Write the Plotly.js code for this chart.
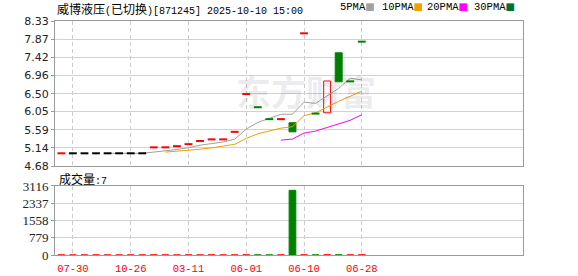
<!DOCTYPE html>
<html><head><meta charset="utf-8">
<script src="https://cdn.plot.ly/plotly-3.0.1.min.js"></script>
<style>html,body{margin:0;padding:0;background:#fff}#chart{width:578px;height:276px}</style>
</head><body><div id="chart"></div>
<script>
// ---- data ----
const dates = ['07-26','07-30','08-15','08-28','09-12','10-09','10-26','11-20','12-18','01-15',
  '02-07','03-11','03-28','04-16','05-09','05-22','06-01','06-03','06-04','06-05',
  '06-06','06-10','06-11','06-12','06-18','06-25','06-28'];
const openPrices = [4.99,5.00,5.00,5.00,5.00,5.00,5.00,5.00,5.14,5.14,
  5.17,5.22,5.30,5.34,5.34,5.53,6.48,6.17,5.87,5.85,
  5.77,8.01,6.01,6.02,7.53,6.82,7.82];
const closePrices = [5.00,5.00,5.00,5.00,5.00,5.00,5.00,5.00,5.15,5.15,
  5.18,5.23,5.31,5.35,5.35,5.54,6.49,6.16,5.86,5.86,
  5.54,8.02,6.00,6.82,6.80,6.81,7.81];
const volumes = [3,1,1,2,1,1,2,1,5,2,1,3,2,4,1,2,6,3,2,4,2920,5,3,8,6,4,7];
const priceTicks = [4.68,5.14,5.59,6.05,6.50,6.96,7.42,7.87,8.33];
const volumeTicks = [0,779,1558,2337,3116];
const maPeriods = [5,10,20,30];
const maNames = ['5PMA','10PMA','20PMA','30PMA'];
const stockName = '威博液压';
const stockNote = '已切换';
const stockCode = '871245';
const stamp = '2025-10-10 15:00';
const volLabel = '成交量';

// ---- styles ----
const RED = '#ff0000', GREEN = '#008000', BLACK = '#000000';
const maColors = ['#a0a0a0','#f0a000','#ff00ff','#00702e'];
const cjk = s => `<span style="font-family:'Noto Sans CJK SC';font-size:12px">${s}</span>`;

// moving averages from closes
function movingAvg(p){
  return closePrices.map((c,i)=>{
    if(i < p-1) return null;
    let s=0; for(let k=i-p+1;k<=i;k++) s+=closePrices[k];
    return s/p;
  });
}

const traces = [];
// volume (first: carries all categories)
const volColors = closePrices.map((c,i)=> (i===0 || c >= closePrices[i-1]) ? RED : GREEN);
traces.push({type:'bar', x:dates, y:volumes, xaxis:'x2', yaxis:'y2', width:0.58,
  marker:{color:volColors, line:{color:volColors, width:1}}, hoverinfo:'skip', showlegend:false});

maPeriods.forEach((p,j)=>{
  traces.push({type:'scatter', mode:'lines', x:dates, y:movingAvg(p), name:maNames[j],
    line:{color:maColors[j], width:1}, hoverinfo:'skip', showlegend:false, xaxis:'x', yaxis:'y'});
});

// candle bodies & flat (doji-like) dashes
const bx=[], bBase=[], bH=[], bFill=[], bLine=[];
const dx=[], dy=[], dCol=[];
closePrices.forEach((c,i)=>{
  const o = openPrices[i];
  const col = c > o ? RED : (c < o ? GREEN : BLACK);
  if (Math.abs(c-o) >= 0.05){
    bx.push(dates[i]); bBase.push(Math.min(o,c)); bH.push(Math.abs(c-o));
    bFill.push(c > o ? 'rgba(255,255,255,0)' : GREEN); bLine.push(col);
  } else {
    dx.push(dates[i]); dy.push(c); dCol.push(col);
  }
});
traces.push({type:'bar', x:bx, base:bBase, y:bH, width:0.6, xaxis:'x', yaxis:'y',
  marker:{color:bFill, line:{color:bLine, width:1}}, hoverinfo:'skip', showlegend:false});
traces.push({type:'scatter', mode:'markers', x:dx, y:dy, xaxis:'x', yaxis:'y',
  marker:{symbol:'line-ew', size:5.6, color:dCol, line:{color:dCol, width:2}},
  hoverinfo:'skip', showlegend:false});

const tickDates = dates.filter((d,i)=> i % 5 === 1);

const xCommon = {type:'category', categoryorder:'array', categoryarray:dates,
  range:[-0.55, 39.95], tickvals:tickDates, ticktext:tickDates,
  showgrid:true, gridcolor:'#cccccc', griddash:'4px,3px', gridwidth:1,
  showline:true, mirror:true, linecolor:'#9a9a9a', linewidth:1, zeroline:false, fixedrange:true};

const annotations = [];
const legendX = [0.6047, 0.6944, 0.7906, 0.891];
maNames.forEach((n,j)=>{
  annotations.push({xref:'paper', yref:'paper', x:legendX[j], y:1.0577, xanchor:'left', yanchor:'middle',
    showarrow:false, text:`${n}<span style="color:${maColors[j]};font-family:'DejaVu Sans';font-size:10px">■</span>`,
    font:{family:'Liberation Mono', size:10.5, color:'#000'}});
});
annotations.push({xref:'paper', yref:'paper', x:0.004, y:0.329, xanchor:'left', yanchor:'middle',
  showarrow:false, text:`${cjk(volLabel)}:${volumes[volumes.length-1]}`,
  font:{family:'Liberation Mono', size:10, color:'#000'}});
annotations.push({xref:'paper', yref:'paper', x:0.536, y:0.705, xanchor:'center', yanchor:'middle',
  showarrow:false, text:'<b>东方财富</b>',
  font:{family:'Noto Sans CJK SC', size:35, color:'rgba(60,60,80,0.11)'}});

const layout = {
  width:578, height:276, paper_bgcolor:'#fff', plot_bgcolor:'#fff',
  margin:{l:55, r:55, t:21, b:21}, barmode:'overlay', showlegend:false,
  title:{text:`${cjk(stockName)}(${cjk(stockNote)})[${stockCode}] ${stamp}`,
    x:57/578, xref:'container', xanchor:'left', y:1-10/276, yref:'container', yanchor:'middle',
    font:{family:'Liberation Mono', size:10, color:'#000'}},
  xaxis: Object.assign({}, xCommon, {anchor:'y', showticklabels:false, ticks:''}),
  xaxis2: Object.assign({}, xCommon, {anchor:'y2', matches:'x', showticklabels:true,
    ticks:'outside', ticklen:3, tickcolor:'rgba(0,0,0,0)',
    tickfont:{family:'Liberation Mono', size:10.5, color:RED}}),
  yaxis:{domain:[0.3803,1], anchor:'x', range:[4.68,8.33], tickvals:priceTicks,
    ticktext:priceTicks.map(v=>v.toFixed(2)), showgrid:true, gridcolor:'#d2d2d2',
    showline:true, mirror:true, linecolor:'#9a9a9a', ticks:'outside', ticklen:3, tickcolor:'#9a9a9a',
    tickfont:{family:'DejaVu Sans', size:11, color:'#222'}, zeroline:false, fixedrange:true},
  yaxis2:{domain:[0,0.2949], anchor:'x2', range:[0,3116], tickvals:volumeTicks,
    ticktext:volumeTicks.map(String), showgrid:true, gridcolor:'#d2d2d2',
    showline:true, mirror:true, linecolor:'#9a9a9a', ticks:'outside', ticklen:3, tickcolor:'#9a9a9a',
    tickfont:{family:'Liberation Serif', size:13, color:'#222'}, zeroline:false, fixedrange:true},
  annotations
};
Plotly.newPlot('chart', traces, layout, {staticPlot:true, displayModeBar:false});
</script></body></html>
